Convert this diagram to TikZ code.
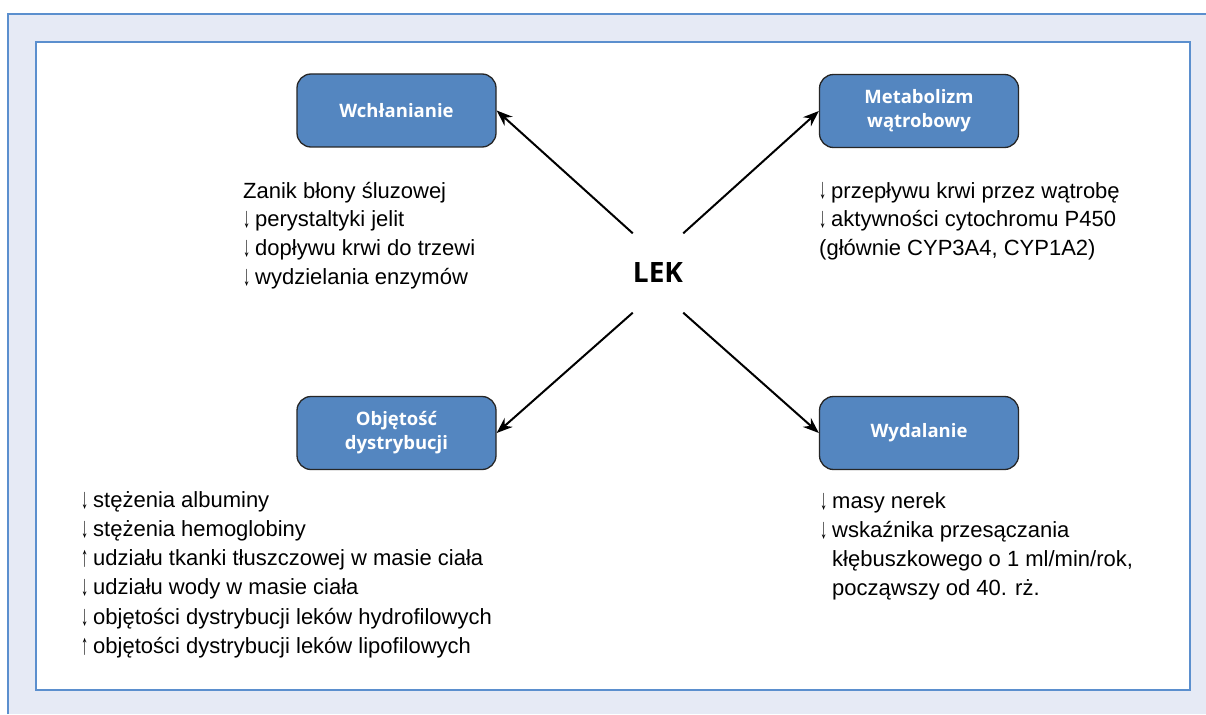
\documentclass[tikz,border=0pt]{standalone}
\usepackage{fontspec}
\setmainfont{Liberation Sans}
\newfontfamily\boxfont{Open Sans}
\usetikzlibrary{arrows.meta,positioning}
\definecolor{tlo}{RGB}{230,234,245}
\definecolor{ramka}{RGB}{91,143,206}
\definecolor{pole}{RGB}{84,134,192}
\newcommand\spadek{\makebox[12pt][l]{\raisebox{-1pt}{\scalebox{0.65}[1.3]{↓}}}}
\newcommand\wzrost{\makebox[12pt][l]{\raisebox{-1pt}{\scalebox{0.65}[1.3]{↑}}}}

\begin{document}
\begin{tikzpicture}[x=1pt,y=-1pt,
  pole/.style={draw=black!85,line width=1.3pt,fill=pole,rounded corners=14pt,
    minimum width=199pt,minimum height=73pt,text=white,align=center,
    font=\boxfont\bfseries\fontsize{18.5}{24}\selectfont},
  opis/.style={anchor=base west,inner sep=0pt,font=\fontsize{22}{29}\selectfont},
  strz/.style={line width=2pt,-{Stealth[length=16pt,width=12pt]}}]
\useasboundingbox (0,0) rectangle (1206,714);
%% tlo i ramki
\fill[tlo] (8,14) rectangle (1206,714);
\draw[ramka,line width=1.5pt] (8,714) -- (8,14) -- (1206,14);
\draw[ramka,line width=1.5pt,fill=white] (36,42) rectangle (1190,690);
%% pola
\node[pole] (wch) at (396.5,110.5) {Wchłanianie};
\node[pole] (met) at (919,111) {Metabolizm\\wątrobowy};
\node[pole] (obj) at (396.5,433) {Objętość\\dystrybucji};
\node[pole] (wyd) at (919,433) {Wydalanie};
\node[inner sep=0pt,minimum width=39pt,minimum height=79pt,
  font=\boxfont\bfseries\fontsize{28}{28}\selectfont] (lek) at (658,273) {LEK};
%% strzalki
\draw[strz] (lek.north west) -- (wch.east);
\draw[strz] (lek.north east) -- (met.west);
\draw[strz] (lek.south west) -- (obj.east);
\draw[strz] (lek.south east) -- (wyd.west);
%% opisy
\foreach \t [count=\i from 0] in {Zanik błony śluzowej,
    \spadek perystaltyki jelit,\spadek dopływu krwi do trzewi,
    \spadek wydzielania enzymów}
  \node[opis] (wch\i) at (243,{198+28.8*\i}) {\t};
\foreach \t [count=\i from 0] in {\spadek przepływu krwi przez wątrobę,
    \spadek aktywności cytochromu P450,{(głównie CYP3A4, CYP1A2)}}
  \node[opis] (met\i) at (819,{198+28.8*\i}) {\t};
\foreach \t [count=\i from 0] in {\spadek stężenia albuminy,
    \spadek stężenia hemoglobiny,
    \wzrost udziału tkanki tłuszczowej w masie ciała,
    \spadek udziału wody w masie ciała,
    \spadek objętości dystrybucji leków hydrofilowych,
    \wzrost objętości dystrybucji leków lipofilowych}
  \node[opis] (obj\i) at (81,{507+29.3*\i}) {\t};
\foreach \t [count=\i from 0] in {\spadek masy nerek,
    \spadek wskaźnika przesączania,
    {\hspace*{12pt}kłębuszkowego o 1 ml/min/rok,},
    \hspace*{12pt}począwszy od 40. rż.}
  \node[opis] (wyd\i) at (820,{508+29*\i}) {\t};
\end{tikzpicture}
\end{document}
